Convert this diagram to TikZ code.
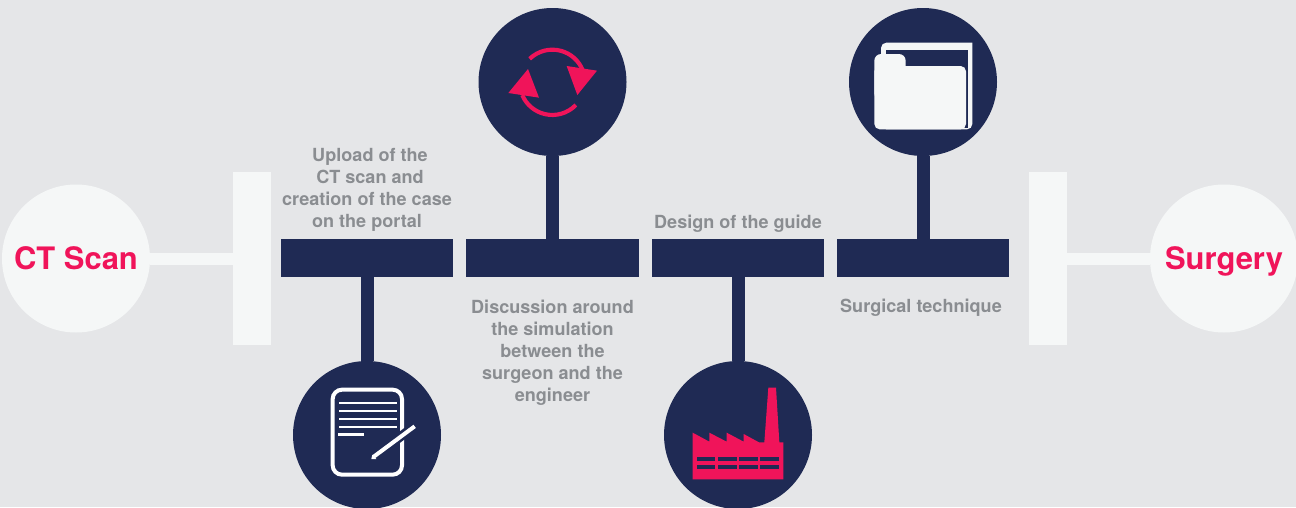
\documentclass[tikz,border=0pt]{standalone}
\usepackage{fontspec}
\setmainfont{TeX Gyre Heros}
\definecolor{bgc}{HTML}{E5E6E8}
\definecolor{navy}{HTML}{1F2A54}
\definecolor{pinkc}{HTML}{F0145A}
\definecolor{whitec}{HTML}{F5F7F7}
\definecolor{grayc}{HTML}{8A8D91}
\tikzset{
 barbox/.style={fill=navy,draw=none,minimum width=129.4pt,minimum height=28.5pt,inner sep=0pt,outer sep=0pt},
 navycirc/.style={circle,fill=navy,draw=none,minimum size=111pt,inner sep=0pt,outer sep=0pt},
 endcirc/.style={circle,fill=whitec,draw=none,minimum size=111pt,inner sep=0pt,outer sep=0pt,text=pinkc,text depth=0pt,font=\fontsize{23.2pt}{26pt}\selectfont\bfseries},
 endbar/.style={fill=whitec,draw=none,minimum width=28.5pt,minimum height=129.75pt,inner sep=0pt,outer sep=0pt},
 stem/.style={navy,line width=9.75pt},
 link/.style={whitec,line width=9pt},
 lbl/.style={text=grayc,align=center,inner sep=0pt,font=\fontsize{13.55pt}{16.4pt}\selectfont\bfseries},
}
\begin{document}
\begin{tikzpicture}[x=0.75pt,y=-0.75pt]
\useasboundingbox[fill=bgc] (0,0) rectangle (1296,507);
% end pieces
\node[endbar] (lbar) at (252,258.5) {};
\node[endbar] (rbar) at (1048,258.5) {};
\node[endcirc] (ct) at (76,258.5) {CT Scan};
\node[endcirc] (su) at (1224,258.5) {Surgery};
\draw[link] (ct) -- (lbar);
\draw[link] (rbar) -- (su);
% bars
\node[barbox] (b1) at (367,258) {};
\node[barbox] (b2) at (552.5,258) {};
\node[barbox] (b3) at (738,258) {};
\node[barbox] (b4) at (923,258) {};
% circles
\node[navycirc] (c1) at (367,435) {};
\node[navycirc] (c2) at (552.5,82) {};
\node[navycirc] (c3) at (738,435) {};
\node[navycirc] (c4) at (923,82) {};
\draw[stem] (b1) -- (c1);
\draw[stem] (b2) -- (c2);
\draw[stem] (b3) -- (c3);
\draw[stem] (b4) -- (c4);
% labels
\node[lbl] (t1) at (367,190) {\hspace*{4.5pt}Upload of the\\\hspace*{4.5pt}CT scan and\\creation of the case\\on the portal};
\node[lbl] (t2) at (552.5,352.5) {Discussion around\\the simulation\\between the\\surgeon and the\\engineer};
\node[lbl] (t3) at (738,224) {Design of the guide};
\node[lbl] (t4) at (921,308) {Surgical technique};
% refresh icon
\begin{scope}[shift={(470,0)},x=0.25pt,y=-0.25pt]
\draw[pinkc,line width=3.1pt] (179,176.5) arc[start angle=-134,end angle=-22,radius=98];
\draw[pinkc,line width=3.1pt] (317.5,315) arc[start angle=44,end angle=157,radius=98];
\fill[pinkc] (290,198) -- (381,212) -- (322,285) -- cycle;
\fill[pinkc] (174,207) -- (115,279) -- (207,293) -- cycle;
\end{scope}
% folder icon
\begin{scope}[shift={(840,0)},x=0.25pt,y=-0.25pt]
\fill[whitec] (123,128) -- (397,128) -- (397,370) [rounded corners=4pt] -- (397,388) -- (123,388) -- cycle;
\fill[navy] (137,150) rectangle (383,384);
\fill[whitec,rounded corners=5pt] (103,162) rectangle (197,300);
\fill[whitec,rounded corners=4pt] (103,198) rectangle (378,388);
\end{scope}
% document icon
\begin{scope}[shift={(285,350)},x=0.25pt,y=-0.25pt]
\draw[white,line width=3pt,rounded corners=7pt] (143,119) rectangle (351,374);
\foreach \yy in {158,183,207,231} \draw[white,line width=1.6pt] (162,\yy) -- (336,\yy);
\draw[white,line width=2.1pt] (159,254) -- (237,254);
\draw[navy,line width=7pt] (262,323) -- (388,229);
\draw[white,line width=3pt] (265,321) -- (389,229);
\fill[white] (259,327) -- (262,314) -- (274,327) -- cycle;
\end{scope}
% factory icon
\begin{scope}[shift={(655,350)},x=0.25pt,y=-0.25pt]
\fill[pinkc] (113,388) -- (113,248) -- (163,275) -- (163,248) -- (215,275) -- (215,248) -- (266,275) -- (266,252) -- (312,277) -- (328,277) -- (340,113) -- (363,113) -- (373,277) -- (385,277) -- (385,388) -- cycle;
\foreach \xa/\xb in {126/181,189/245,252/308,316/372}{
 \fill[navy] (\xa,321) rectangle (\xb,333);
 \fill[navy] (\xa,344) rectangle (\xb,356);
}
\end{scope}
\end{tikzpicture}
\end{document}
